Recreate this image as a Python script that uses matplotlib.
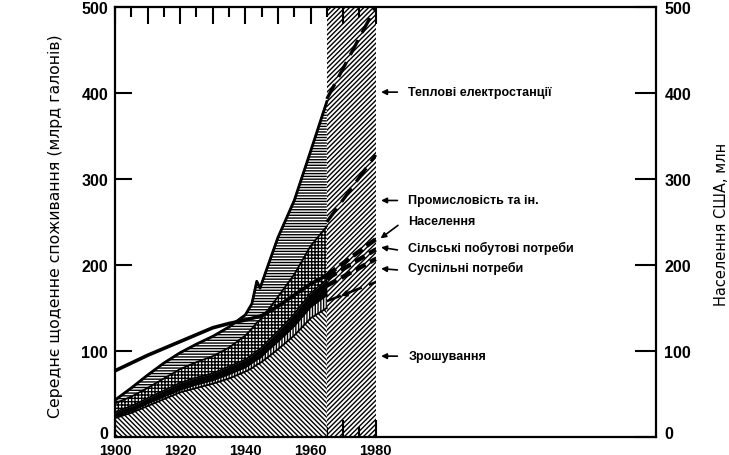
import numpy as np
import matplotlib
matplotlib.use('Agg')
import matplotlib.pyplot as plt
import matplotlib.transforms as mtransforms
from matplotlib.ticker import FixedLocator, FixedFormatter

# water withdrawals by use, bln gallons per day
years = [1900, 1905, 1910, 1915, 1920, 1925, 1930, 1935, 1940, 1942, 1943.5, 1944.5, 1947, 1950, 1955, 1960, 1965]
irrigation = [22, 28, 36, 44, 52, 57, 62, 68, 76, 80, 84, 86, 93, 102, 118, 138, 150]
public = [2, 2, 3, 3, 3, 4, 4, 5, 5, 6, 6, 6, 8, 9, 11, 13, 15]
rural = [5, 6, 6, 7, 8, 8, 8, 9, 9, 9, 10, 10, 11, 12, 14, 16, 18]
industry = [10, 11, 12, 14, 16, 18, 20, 22, 28, 31, 33, 34, 36, 40, 46, 55, 62]
thermal = [4, 10, 15, 18, 19, 21, 23, 24, 24, 29, 48, 37, 52, 69, 86, 110, 145]

# US population, millions
pop_years = [1900, 1910, 1920, 1930, 1935, 1940, 1945, 1950, 1955, 1960, 1965]
population = [77, 95, 111, 127, 132, 136, 141, 152, 165, 178, 188]

# projections 1965 -> 1980 (cumulative levels)
proj_years = [1965, 1980]
thermal_proj = [393, 500]
industry_proj = [250, 328]
pop_proj = [188, 230]
rural_proj = [184, 218]
public_proj = [176, 207]
irrig_proj = [158, 180]

labels = ['Теплові електростанції', 'Промисловість та ін.', 'Населення',
          'Сільські побутові потреби', 'Суспільні потреби', 'Зрошування']
label_y = [401, 275, 251, 220, 197, 94]
arrow_y = [401, 275, 229, 221, 196, 94]

yticks = [0, 100, 200, 300, 400, 500]
xticks = [1900, 1920, 1940, 1960, 1980]

plt.rcParams['hatch.linewidth'] = 1.0
plt.rcParams['font.family'] = 'DejaVu Sans'
LAB_FONT = ['Liberation Sans Narrow', 'Liberation Sans', 'DejaVu Sans']

fig = plt.figure(figsize=(7.29, 4.56), dpi=100)
ax = fig.add_axes([0.1578, 0.0395, 0.742, 0.943])

# projection band
ax.fill_between(proj_years, 0, 500, facecolor='white', edgecolor='black',
                hatch='///////', linewidth=0, zorder=1)

# stacked layers
layers = [irrigation, public, rural, industry, thermal]
hatches = ['\\\\\\\\\\\\\\', '||||||', None, '+++++', '------']
faces = ['white', 'white', 'black', 'white', 'white']
bottom = np.zeros(len(years))
for vals, h, fc in zip(layers, hatches, faces):
    top = bottom + np.array(vals)
    ax.fill_between(years, bottom, top, facecolor=fc, edgecolor='black',
                    hatch=h, linewidth=0, zorder=2)
    ax.plot(years, top, color='black', lw=1.3, zorder=3)
    bottom = top
ax.plot(years, bottom, color='black', lw=2.0, zorder=3)

# population
ax.plot(pop_years, population, color='black', lw=2.6, zorder=4)

# projections
ax.plot(proj_years, thermal_proj, color='black', lw=2.4, dashes=(5, 2.5), zorder=4)
ax.plot(proj_years, industry_proj, color='black', lw=2.4, dashes=(5, 2.5), zorder=4)
for p in [pop_proj, rural_proj, public_proj]:
    ax.plot(proj_years, p, color='black', lw=3.2, dashes=(2.5, 1.2), zorder=4)
ax.plot(proj_years, irrig_proj, color='black', lw=1.8, dashes=(6, 3), zorder=4)
ax.annotate('', xy=(1968.5, 163), xytext=(1972, 168),
            arrowprops=dict(arrowstyle='-|>', color='black', lw=1.2,
                            mutation_scale=9), zorder=5)

# labels with arrows
for txt, ty, ay in zip(labels, label_y, arrow_y):
    ax.annotate('', xy=(1980.8, ay), xytext=(1987.5, ty - (3 if ty != ay else 0)),
                arrowprops=dict(arrowstyle='-|>', color='black', lw=1.2,
                                mutation_scale=8), annotation_clip=False)
    ax.text(1990, ty, txt, fontsize=9, fontweight='bold', family=LAB_FONT,
            va='center', ha='left')

ax.set_xlim(1900, 2066)
ax.set_ylim(0, 500)

# x ticks: long every 10 years, short every 5, only 1900-1980
ax.xaxis.set_major_locator(FixedLocator(list(range(1900, 1981, 10))))
ax.xaxis.set_major_formatter(FixedFormatter(
    [str(y) if y in xticks else '' for y in range(1900, 1981, 10)]))
ax.xaxis.set_minor_locator(FixedLocator(list(range(1905, 1980, 10))))
ax.tick_params(axis='x', which='major', direction='in', top=True, length=12,
               width=1.5, pad=4, labelsize=10.5)
ax.tick_params(axis='x', which='minor', direction='in', top=True, length=7, width=1.5)
for lab in ax.get_xticklabels():
    lab.set_fontweight('bold')
    lab.set_family(LAB_FONT[1:])

ax.set_yticks(yticks)
ax.tick_params(axis='y', direction='in', length=12, width=1.5, pad=5, labelsize=11.5)
for lab in ax.get_yticklabels():
    lab.set_fontweight('bold')
    lab.set_family(LAB_FONT[1:])

for s in ax.spines.values():
    s.set_linewidth(1.6)

ax2 = ax.twinx()
ax2.set_ylim(0, 500)
ax2.set_yticks(yticks)
ax2.tick_params(axis='y', direction='in', length=15, width=1.5, pad=6, labelsize=11.5)
for lab in ax2.get_yticklabels():
    lab.set_fontweight('bold')
    lab.set_family(LAB_FONT[1:])
for s in ax2.spines.values():
    s.set_visible(False)

# lift the "0" labels a little, as in the original
shift = mtransforms.ScaledTranslation(0, 5 / 100, fig.dpi_scale_trans)
for a in (ax, ax2):
    zero = a.get_yticklabels()[0]
    zero.set_transform(zero.get_transform() + shift)

fig.text(0.076, 0.505, 'Середнє щоденне споживання (млрд галонів)', rotation=90,
         ha='center', va='center', fontsize=11.3)
fig.text(0.99, 0.507, 'Населення США, млн', rotation=90,
         ha='center', va='center', fontsize=10.5)

fig.savefig('out.png', dpi=100)
